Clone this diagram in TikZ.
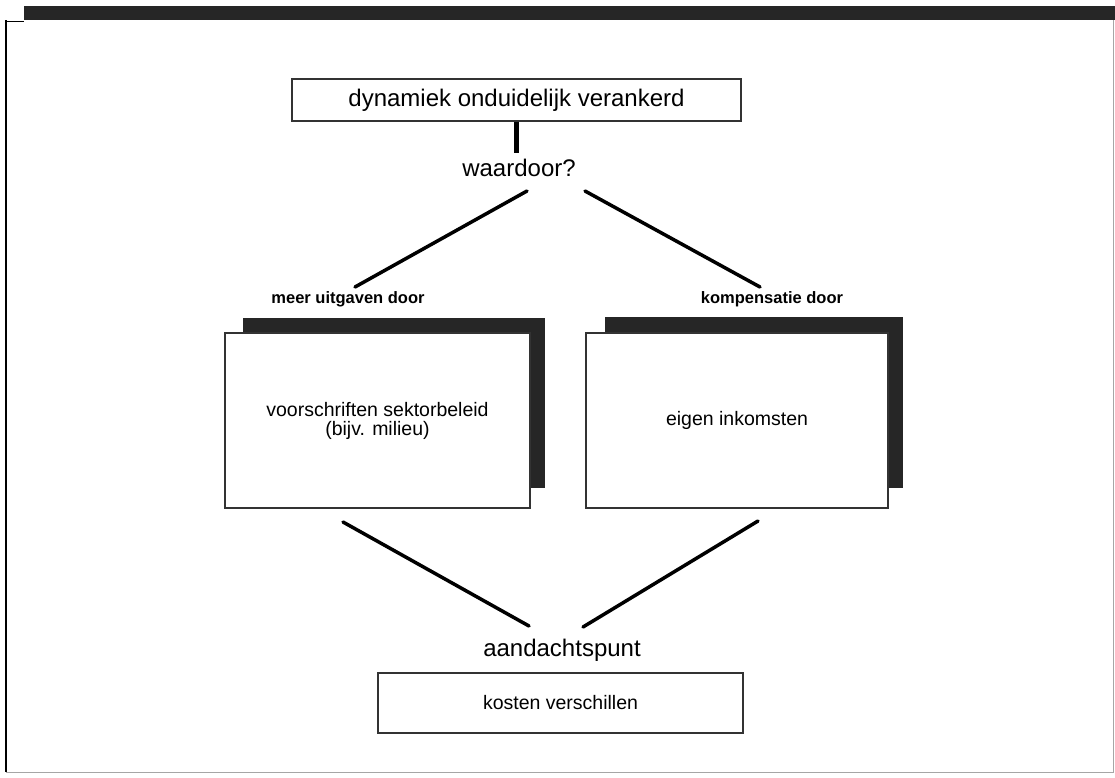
\documentclass[tikz,border=0pt]{standalone}
\usepackage{fontspec}
\setmainfont{Liberation Sans}

\begin{document}
\begin{tikzpicture}[x=1pt,y=-1pt,
    kader/.style={draw=black!80,line width=1.3pt,fill=white},
    schaduw/.style={fill=black!85,inner sep=0pt},
    lijn/.style={line width=3.5pt,line cap=round},
    groot/.style={font=\fontsize{24}{28}\selectfont},
    klein/.style={font=\fontsize{19.5}{22}\selectfont},
    kop/.style={font=\fontsize{16.5}{20}\selectfont\bfseries}]
  \useasboundingbox (0,0) rectangle (1115,777);
  % frame
  \fill[black!85] (24,6) rectangle (1115,20);
  \draw[line width=1pt] (6,21) -- (24,21);
  \draw[line width=2.5pt] (6,20) -- (6,772);
  \draw[black!35,line width=1pt] (6,772) -- (1113,772) -- (1113,20);
  % top
  \node[kader,groot,minimum width=449,minimum height=42] (vraag) at (516.5,100)
    {dynamiek onduidelijk verankerd};
  \node[groot,inner sep=0pt] (waardoor) at (519,168) {waardoor?};
  \draw[line width=5pt] (vraag.south) -- ++(0,31);
  \coordinate (lb) at (527,191);
  \coordinate (rb) at (585,191);
  \node[kop,inner sep=0pt] (meer) at (348,299) {meer uitgaven door};
  \node[kop,inner sep=0pt] (komp) at (772,299) {kompensatie door};
  \draw[lijn] (lb) -- (355,287);
  \draw[lijn] (rb) -- (760,287);
  % boxes with shadow
  \fill[schaduw] (243,318) rectangle (545,488);
  \fill[schaduw] (605,317) rectangle (903,488);
  \node[kader,klein,align=center,minimum width=305,minimum height=175] (links)
    at (377.5,420.5) {voorschriften sektorbeleid\\[-3pt](bijv. milieu)};
  \node[kader,klein,minimum width=302,minimum height=175] (rechts)
    at (737,420.5) {eigen inkomsten};
  % bottom
  \coordinate (lo) at (529,626);
  \coordinate (ro) at (583,627);
  \draw[lijn] (343,522) -- (lo);
  \draw[lijn] (758,521) -- (ro);
  \node[groot,inner sep=0pt] (punt) at (562,650) {aandachtspunt};
  \node[kader,klein,minimum width=365,minimum height=60] (kosten) at (560.5,703)
    {kosten verschillen};
\end{tikzpicture}
\end{document}
